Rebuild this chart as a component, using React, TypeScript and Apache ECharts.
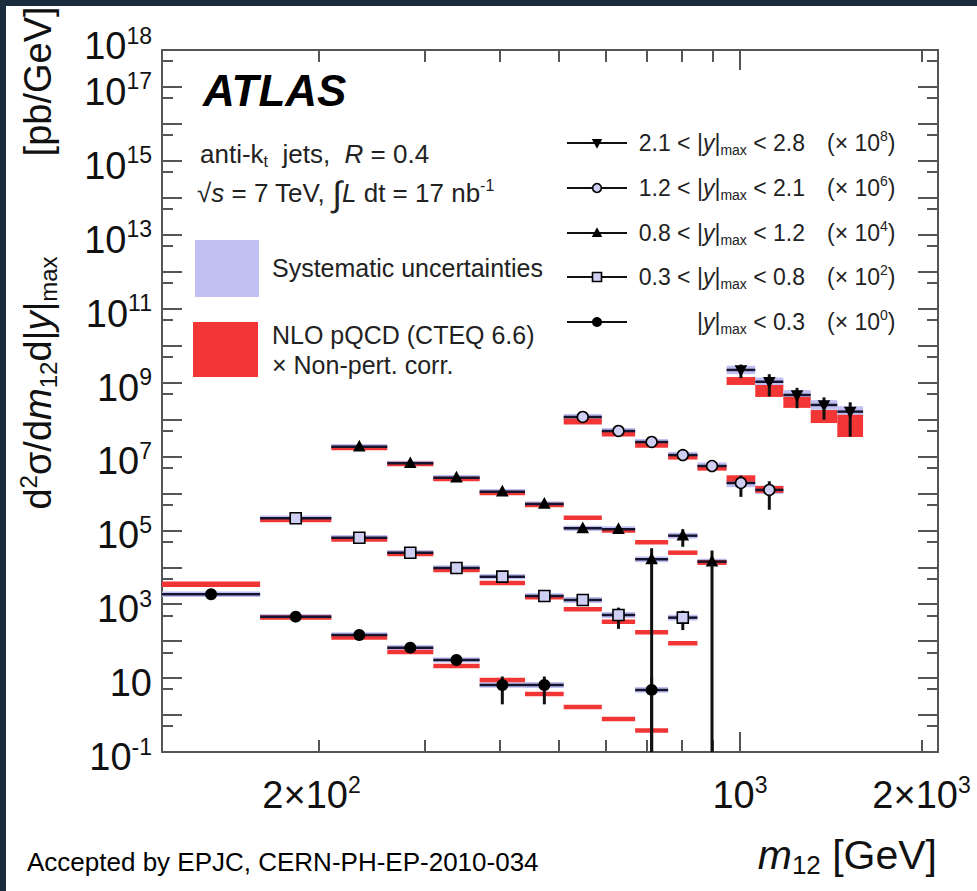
import React, { useEffect, useRef } from 'react';
import * as echarts from 'echarts';

// ---------------- data ----------------
// dijet mass bin edges [GeV]
const MASS_BIN_EDGES = [110, 160, 210, 260, 310, 370, 440, 510, 590, 670, 760, 850, 950, 1060, 1180, 1310, 1450, 1600];

// 2.1 < |y|max < 2.8  (x 10^8), bins 950 .. 1600
const XSEC_Y4 = [21.9, 10.5, 4.6, 2.47, 1.63];
const STAT_Y4 = [0.4, 0.6, 0.56, 0.6, 0.79];
const SYST_Y4 = [0.3, 0.3, 0.35, 0.35, 0.4];
const NLO_Y4 = [11.0, 5.9, 2.9, 1.2, 0.67];
const NLO_UNC_Y4 = [0.28, 0.45, 0.41, 0.5, 1.0];

// 1.2 < |y|max < 2.1  (x 10^6), bins 510 .. 1180
const XSEC_Y3 = [117, 48.9, 24.6, 10.9, 5.5, 1.91, 1.24];
const STAT_Y3 = [0.05, 0.07, 0.09, 0.12, 0.18, 0.58, 0.71];
const SYST_Y3 = [0.2, 0.2, 0.2, 0.22, 0.25, 0.3, 0.3];
const NLO_Y3 = [88, 40.6, 20.4, 9.7, 4.86, 2.53, 1.28];
const NLO_UNC_Y3 = [0.2, 0.18, 0.18, 0.18, 0.18, 0.22, 0.24];

// 0.8 < |y|max < 1.2  (x 10^4), bins 210 .. 950
const XSEC_Y2 = [1840, 652, 266, 111, 51.6, 11.3, 10.7, 1.64, 7.16, 1.42];
const STAT_Y2 = [0.02, 0.03, 0.05, 0.07, 0.1, 0.2, 0.25, 1.0, 0.5, 1.0];
const SYST_Y2 = [0.18, 0.18, 0.18, 0.18, 0.18, 0.18, 0.2, 0.2, 0.2, 0.2];
const NLO_Y2 = [1690, 625, 245, 103, 48.5, 22, 9.9, 4.75, 2.48, 1.35];
const NLO_UNC_Y2 = [0.15, 0.15, 0.15, 0.15, 0.15, 0.15, 0.15, 0.15, 0.15, 0.17];

// 0.3 < |y|max < 0.8  (x 10^2), bins 160 .. 850
const XSEC_Y1 = [2120, 632, 248, 95.7, 55.7, 16.7, 13.0, 5.12, null, 4.33];
const STAT_Y1 = [0.02, 0.03, 0.04, 0.06, 0.08, 0.12, 0.15, 0.58, null, 0.54];
const SYST_Y1 = [0.18, 0.18, 0.18, 0.18, 0.18, 0.18, 0.2, 0.2, 0.2, 0.2];
const NLO_Y1 = [1900, 565, 229, 84.5, 37.6, 15.4, 7.3, 3.37, 1.74, 0.877];
const NLO_UNC_Y1 = [0.15, 0.15, 0.15, 0.15, 0.15, 0.15, 0.15, 0.15, 0.15, 0.15];

// |y|max < 0.3  (x 10^0), bins 110 .. 760
const XSEC_Y0 = [1860, 460, 147, 66.7, 31.0, 6.5, 6.5, null, null, 4.8];
const STAT_Y0 = [0.03, 0.05, 0.07, 0.1, 0.15, 0.7, 0.7, null, null, 1.2];
const SYST_Y0 = [0.18, 0.18, 0.18, 0.18, 0.18, 0.18, 0.2, 0.2, 0.2, 0.2];
const NLO_Y0 = [3470, 440, 126, 51, 21.3, 8.9, 3.72, 1.66, 0.78, 0.383];
const NLO_UNC_Y0 = [0.18, 0.15, 0.15, 0.15, 0.15, 0.15, 0.15, 0.15, 0.15, 0.15];

// legend order (top to bottom)
const RAPIDITY_LOW = ['2.1', '1.2', '0.8', '0.3', ''];
const RAPIDITY_HIGH = ['2.8', '2.1', '1.2', '0.8', '0.3'];
const SCALE_EXPONENTS = [8, 6, 4, 2, 0];
const FIRST_BIN = [12, 7, 2, 1, 0];
const MARKERS = ['triangleDown', 'circleOpen', 'triangle', 'squareOpen', 'circle'];

// axes
const X_MIN = 110;
const X_MAX = 2130;
const Y_MIN = 0.1;
const Y_MAX = 1e18;
const X_LABELS = [200, 1000, 2000];
const X_TICKS_MINOR = [200, 300, 400, 500, 600, 700, 800, 900, 2000];
const X_TICKS_MAJOR = [1000];
const Y_LABEL_EXPONENTS = [-1, 1, 3, 5, 7, 9, 11, 13, 15, 17];
const Y_TOP_LABEL_EXPONENTS = [18];
const Y_DECADE_EXPONENTS = [-1, 0, 1, 2, 3, 4, 5, 6, 7, 8, 9, 10, 11, 12, 13, 14, 15, 16, 17, 18];

// ---------------- styling ----------------
const FONT = '"Liberation Sans", Arial, Helvetica, sans-serif';
const SYST_COLOR = '#c0c0f2';
const NLO_COLOR = '#f23636';
const OPEN_FILL = '#cfcff4';
const TXT = '#222';
const AXIS_COLOR = '#555';

type Group = {
  exp: number; first: number; marker: string; lo: string; hi: string;
  xsec: (number | null)[]; stat: (number | null)[]; syst: number[]; nlo: number[]; nloUnc: number[];
};

const GROUPS: Group[] = [
  { xsec: XSEC_Y4, stat: STAT_Y4, syst: SYST_Y4, nlo: NLO_Y4, nloUnc: NLO_UNC_Y4 },
  { xsec: XSEC_Y3, stat: STAT_Y3, syst: SYST_Y3, nlo: NLO_Y3, nloUnc: NLO_UNC_Y3 },
  { xsec: XSEC_Y2, stat: STAT_Y2, syst: SYST_Y2, nlo: NLO_Y2, nloUnc: NLO_UNC_Y2 },
  { xsec: XSEC_Y1, stat: STAT_Y1, syst: SYST_Y1, nlo: NLO_Y1, nloUnc: NLO_UNC_Y1 },
  { xsec: XSEC_Y0, stat: STAT_Y0, syst: SYST_Y0, nlo: NLO_Y0, nloUnc: NLO_UNC_Y0 },
].map((g, i) => ({
  ...g,
  exp: SCALE_EXPONENTS[i],
  first: FIRST_BIN[i],
  marker: MARKERS[i],
  lo: RAPIDITY_LOW[i],
  hi: RAPIDITY_HIGH[i],
}));

function markerShape(kind: string, cx: number, cy: number, r: number): any {
  switch (kind) {
    case 'circle':
      return { type: 'circle', shape: { cx, cy, r }, style: { fill: '#000' } };
    case 'circleOpen':
      return { type: 'circle', shape: { cx, cy, r: r - 0.6 }, style: { fill: OPEN_FILL, stroke: '#000', lineWidth: 1.6 } };
    case 'triangle':
      return {
        type: 'polygon',
        shape: { points: [[cx, cy - r * 1.15], [cx - r * 1.05, cy + r * 0.8], [cx + r * 1.05, cy + r * 0.8]] },
        style: { fill: '#000' },
      };
    case 'triangleDown':
      return {
        type: 'polygon',
        shape: { points: [[cx, cy + r * 1.15], [cx - r * 1.05, cy - r * 0.8], [cx + r * 1.05, cy - r * 0.8]] },
        style: { fill: '#000' },
      };
    case 'squareOpen':
    default:
      return {
        type: 'rect',
        shape: { x: cx - r + 0.5, y: cy - r + 0.5, width: 2 * r - 1, height: 2 * r - 1 },
        style: { fill: OPEN_FILL, stroke: '#000', lineWidth: 1.6 },
      };
  }
}

function groupItems(g: Group) {
  const s = Math.pow(10, g.exp);
  return g.nlo.map((th, j) => {
    const b = g.first + j;
    const v = g.xsec[j];
    return [
      MASS_BIN_EDGES[b],
      MASS_BIN_EDGES[b + 1],
      v == null ? 0 : v * s,
      th * s,
      g.nloUnc[j],
      g.syst[j],
      g.stat[j] == null ? 0 : (g.stat[j] as number),
    ];
  });
}

function buildSeries(): any[] {
  const bands: any[] = [];
  const points: any[] = [];
  GROUPS.forEach((g) => {
    const items = groupItems(g);
    bands.push({
      type: 'custom',
      name: `band ${g.lo}-${g.hi}`,
      xAxisIndex: 0,
      yAxisIndex: 0,
      z: 2,
      silent: true,
      encode: { x: [0, 1], y: 3 },
      data: items,
      renderItem: (_p: any, api: any) => {
        const lo = api.value(0), hi = api.value(1), v = api.value(2);
        const th = api.value(3), thu = api.value(4), sy = api.value(5);
        const children: any[] = [];
        if (v > 0) {
          const a = api.coord([lo, v * (1 + sy)]);
          const b = api.coord([hi, v / (1 + sy)]);
          children.push({ type: 'rect', shape: { x: a[0], y: a[1], width: b[0] - a[0], height: b[1] - a[1] }, style: { fill: SYST_COLOR } });
        }
        const c = api.coord([lo, th * (1 + thu)]);
        const d = api.coord([hi, th / (1 + thu)]);
        children.push({ type: 'rect', shape: { x: c[0], y: c[1], width: d[0] - c[0], height: d[1] - c[1] }, style: { fill: NLO_COLOR } });
        return { type: 'group', children };
      },
    });
    points.push({
      type: 'custom',
      name: `data ${g.lo}-${g.hi}`,
      xAxisIndex: 0,
      yAxisIndex: 0,
      z: 3,
      silent: true,
      encode: { x: [0, 1], y: 3 },
      data: items,
      renderItem: (_p: any, api: any) => {
        const lo = api.value(0), hi = api.value(1), v = api.value(2), st = api.value(6);
        if (!(v > 0)) return { type: 'group', children: [] };
        const center = Math.sqrt(lo * hi);
        const l = api.coord([lo, v]);
        const r = api.coord([hi, v]);
        const p = api.coord([center, v]);
        const up = api.coord([center, v * (1 + st)]);
        const down = api.coord([center, Math.max(v * (1 - st), Y_MIN)]);
        return {
          type: 'group',
          children: [
            { type: 'line', shape: { x1: l[0], y1: l[1], x2: r[0], y2: r[1] }, style: { stroke: '#151530', lineWidth: 2.5 } },
            { type: 'line', shape: { x1: p[0], y1: up[1], x2: p[0], y2: down[1] }, style: { stroke: '#111', lineWidth: 3 } },
            markerShape(g.marker, p[0], p[1], 6),
          ],
        };
      },
    });
  });
  return [...bands, ...points];
}

const formatPow = (v: number) => {
  const e = Math.round(Math.log10(v));
  return e === 1 ? '{b|10}' : `{b|10}{s|${e}}`;
};
const formatMass = (v: number) => {
  const e = Math.floor(Math.log10(v) + 1e-9);
  const m = Math.round(v / Math.pow(10, e));
  if (m === 1) return `{b|10}{s|${e}}`;
  // the lowest label sits a little left of its tick in the original
  return e === 2 ? `{b|${m}×10}{sl|${e}}` : `{b|${m}×10}{s|${e}}`;
};

const labelRich = {
  b: { fontSize: 38, lineHeight: 44, fontFamily: FONT, color: '#111' },
  s: { fontSize: 23, lineHeight: 18, verticalAlign: 'top', fontFamily: FONT, color: '#111' },
  sl: { fontSize: 23, lineHeight: 18, verticalAlign: 'top', fontFamily: FONT, color: '#111', padding: [0, 14, 0, 0] },
};

const nudge = (v: number, lo: number, hi: number) => Math.min(Math.max(v, lo * 1.000001), hi * 0.999999);

function buildAxes() {
  const tickLine = { color: AXIS_COLOR, width: 2 };
  const axisLine = { show: true, lineStyle: { color: AXIS_COLOR, width: 2 } };
  const xBase = { type: 'log', logBase: 10, min: X_MIN, max: X_MAX, gridIndex: 0, splitLine: { show: false }, minorTick: { show: false } };
  const yBase = { type: 'log', logBase: 10, min: Y_MIN, max: Y_MAX, gridIndex: 0, splitLine: { show: false }, minorTick: { show: false } };
  const xMinor = X_TICKS_MINOR.map((v) => nudge(v, X_MIN, X_MAX));
  const xMajor = X_TICKS_MAJOR.map((v) => nudge(v, X_MIN, X_MAX));
  const yDecades = Y_DECADE_EXPONENTS.map((e) => nudge(Math.pow(10, e), Y_MIN, Y_MAX));
  const yHalf = Y_DECADE_EXPONENTS.filter((e) => e < 18).map((e) => nudge(5 * Math.pow(10, e), Y_MIN, Y_MAX));
  const yLabels = Y_LABEL_EXPONENTS.map((e) => nudge(Math.pow(10, e), Y_MIN, Y_MAX));
  const yTopLabels = Y_TOP_LABEL_EXPONENTS.map((e) => nudge(Math.pow(10, e), Y_MIN, Y_MAX));
  const yLabelStyle = {
    show: true, margin: 10, formatter: formatPow, rich: labelRich,
    padding: [10, 0, 0, 0], color: '#111', showMinLabel: true, showMaxLabel: true, hideOverlap: false,
  };
  const xAxis = [
    {
      ...xBase, position: 'bottom', axisLine,
      axisTick: { show: true, inside: true, length: 12, lineStyle: tickLine, customValues: xMinor },
      axisLabel: {
        show: true, customValues: X_LABELS, margin: 21, formatter: formatMass, rich: labelRich, color: '#111',
        showMinLabel: true, showMaxLabel: true, hideOverlap: false,
      },
    },
    {
      ...xBase, position: 'bottom', axisLine: { show: false },
      axisTick: { show: true, inside: true, length: 20, lineStyle: tickLine, customValues: xMajor },
      axisLabel: { show: false },
    },
    {
      ...xBase, position: 'top', axisLine,
      axisTick: { show: true, inside: true, length: 12, lineStyle: tickLine, customValues: xMinor },
      axisLabel: { show: false },
    },
    {
      ...xBase, position: 'top', axisLine: { show: false },
      axisTick: { show: true, inside: true, length: 20, lineStyle: tickLine, customValues: xMajor },
      axisLabel: { show: false },
    },
  ];
  const yAxis = [
    {
      ...yBase, position: 'left', axisLine,
      axisTick: { show: true, inside: true, length: 20, lineStyle: tickLine, customValues: yDecades },
      axisLabel: { ...yLabelStyle, customValues: yLabels },
    },
    {
      // minor ticks at 5 x 10^n, and the lone 10^18 label (kept apart so it does not hide 10^17)
      ...yBase, position: 'left', axisLine: { show: false },
      axisTick: { show: true, inside: true, length: 11, lineStyle: tickLine, customValues: yHalf },
      axisLabel: { ...yLabelStyle, padding: [0, 0, 8, 0], customValues: yTopLabels },
    },
    {
      ...yBase, position: 'right', axisLine,
      axisTick: { show: true, inside: true, length: 20, lineStyle: tickLine, customValues: yDecades },
      axisLabel: { show: false },
    },
    {
      ...yBase, position: 'right', axisLine: { show: false },
      axisTick: { show: true, inside: true, length: 11, lineStyle: tickLine, customValues: yHalf },
      axisLabel: { show: false },
    },
  ];
  return { xAxis, yAxis };
}

const legendRich = {
  n: { fontSize: 23, lineHeight: 28, fontFamily: FONT, fill: TXT },
  i: { fontSize: 23, lineHeight: 28, fontFamily: FONT, fontStyle: 'italic', fill: TXT },
  sub: { fontSize: 14, lineHeight: 14, verticalAlign: 'bottom', fontFamily: FONT, fill: TXT },
  sup: { fontSize: 14, lineHeight: 18, verticalAlign: 'top', fontFamily: FONT, fill: TXT },
};

function text(x: number, y: number, str: string, rich: any, align = 'left', extra: any = {}) {
  return {
    type: 'text',
    x,
    y,
    silent: true,
    ...extra,
    style: { text: str, rich, align, verticalAlign: 'middle', textAlign: align, textVerticalAlign: 'middle', fill: TXT, fontFamily: FONT },
  };
}

function richSet(size: number) {
  const small = Math.round(size * 0.6);
  return {
    n: { fontSize: size, lineHeight: size + 5, fontFamily: FONT, fill: TXT },
    i: { fontSize: size, lineHeight: size + 5, fontFamily: FONT, fontStyle: 'italic', fill: TXT },
    sub: { fontSize: small, lineHeight: small + 1, verticalAlign: 'bottom', fontFamily: FONT, fill: TXT },
    sup: { fontSize: small, lineHeight: small + 5, verticalAlign: 'top', fontFamily: FONT, fill: TXT },
    int: { fontSize: size + 9, lineHeight: size + 5, fontFamily: FONT, fill: TXT },
  };
}

function buildGraphics(): any[] {
  const els: any[] = [];
  // ATLAS label
  els.push({
    type: 'text', x: 197, y: 84, silent: true,
    style: { text: 'ATLAS', fontSize: 44, fontWeight: 'bold', fontStyle: 'italic', fontFamily: FONT, fill: '#000', align: 'left', verticalAlign: 'middle' },
  });
  const r26 = richSet(26);
  const r25 = richSet(25);
  els.push(text(194, 148, '{n|anti-k}{sub|t}{n|  jets,  }{i|R}{n| = 0.4}', r26));
  els.push(text(191, 187, '{n|√}{i|s}{n| = 7 TeV, }{int|∫}{i|L}{n| dt = 17 nb}{sup|-1}', r26));
  els.push({ type: 'rect', silent: true, shape: { x: 189, y: 234, width: 64, height: 57 }, style: { fill: SYST_COLOR } });
  els.push(text(266, 262, '{n|Systematic uncertainties}', r25));
  els.push({ type: 'rect', silent: true, shape: { x: 187, y: 316, width: 65, height: 55 }, style: { fill: NLO_COLOR } });
  els.push(text(266, 329, '{n|NLO pQCD (CTEQ 6.6)}', r25));
  els.push(text(266, 359, '{n|× Non-pert. corr.}', r25));

  // rapidity legend
  const rowY = [137, 182, 227, 271, 316];
  GROUPS.forEach((g, i) => {
    const y = rowY[i];
    els.push({ type: 'line', silent: true, shape: { x1: 561, y1: y, x2: 621, y2: y }, style: { stroke: '#111', lineWidth: 2 } });
    els.push({ ...markerShape(g.marker, 591, y, 5), silent: true });
    const label = g.lo
      ? `{n|${g.lo} < |}{i|y}{n||}{sub|max}{n| < ${g.hi}}`
      : `{n||}{i|y}{n||}{sub|max}{n| < ${g.hi}}`;
    els.push(text(799, y, label, legendRich, 'right'));
    els.push(text(821, y, `{n|(× 10}{sup|${g.exp}}{n|)}`, legendRich));
  });

  // axis titles
  const titleRich = {
    n: { fontSize: 38, lineHeight: 44, fontFamily: FONT, fill: '#111' },
    i: { fontSize: 38, lineHeight: 44, fontFamily: FONT, fontStyle: 'italic', fill: '#111' },
    sub: { fontSize: 24, lineHeight: 22, verticalAlign: 'bottom', fontFamily: FONT, fill: '#111' },
    sup: { fontSize: 24, lineHeight: 22, verticalAlign: 'top', fontFamily: FONT, fill: '#111' },
    gap: { fontSize: 38, lineHeight: 44, width: 100, fontFamily: FONT, fill: '#111' },
  };
  const xTitleRich = {
    n: { fontSize: 41, lineHeight: 46, fontFamily: FONT, fill: '#111' },
    i: { fontSize: 41, lineHeight: 46, fontFamily: FONT, fontStyle: 'italic', fill: '#111' },
    sub: { fontSize: 26, lineHeight: 24, verticalAlign: 'bottom', fontFamily: FONT, fill: '#111' },
  };
  els.push(text(32, 252, '{n|d}{sup|2}{n|σ/d}{i|m}{sub|12}{n|d|}{i|y}{n||}{sub|max}{gap| }{n|[pb/GeV]}', titleRich, 'center', { rotation: Math.PI / 2 }));
  els.push(text(931, 849, '{i|m}{sub|12}{n| [GeV]}', xTitleRich, 'right'));

  // footer
  els.push({
    type: 'text', x: 21, y: 856, silent: true,
    style: { text: 'Accepted by EPJC, CERN-PH-EP-2010-034', fontSize: 26, fontFamily: FONT, fill: '#000', align: 'left', verticalAlign: 'middle' },
  });
  return els;
}

function buildOption(): any {
  const { xAxis, yAxis } = buildAxes();
  return {
    animation: false,
    backgroundColor: '#ffffff',
    grid: { left: 156, top: 44, right: 39, bottom: 139, containLabel: false, outerBoundsMode: 'none' },
    xAxis,
    yAxis,
    series: buildSeries(),
    graphic: { elements: buildGraphics() },
  };
}

export default function App() {
  const ref = useRef<HTMLDivElement>(null);
  useEffect(() => {
    if (!ref.current) return;
    const chart = echarts.init(ref.current, undefined, { renderer: 'svg' });
    chart.setOption(buildOption());
    return () => chart.dispose();
  }, []);
  return (
    <div style={{ position: 'fixed', left: 0, top: 0, width: 977, height: 891, background: '#1b2d3d' }}>
      <div ref={ref} style={{ position: 'absolute', left: 6, top: 6, width: 971, height: 885, background: '#ffffff' }} />
    </div>
  );
}
